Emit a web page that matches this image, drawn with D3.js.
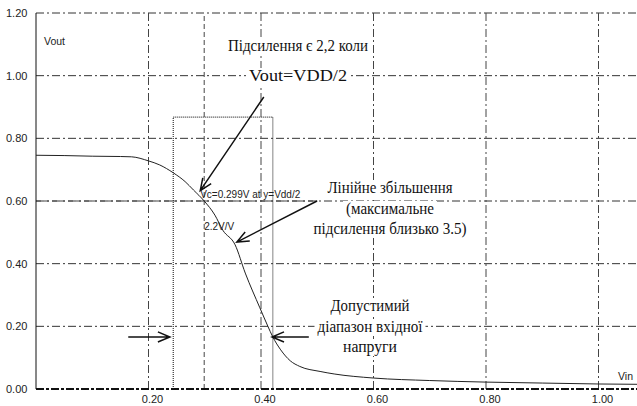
<!DOCTYPE html>
<html>
<head>
<meta charset="utf-8">
<script src="https://cdn.jsdelivr.net/npm/d3@7"></script>
<style>
  body { margin: 0; background: #fff; }
  svg { display: block; }
  .tick-label { font-family: "Liberation Sans", Arial, sans-serif; font-size: 11px; fill: #222; }
  .note { font-family: "Liberation Serif", "Times New Roman", serif; font-size: 17px; fill: #111; }
  .small { font-family: "Liberation Sans", Arial, sans-serif; font-size: 10px; fill: #222; }
</style>
</head>
<body>
<svg id="chart"></svg>
<script>
const width = 637;
const height = 406;
const margin = {top: 13, right: 0, bottom: 17, left: 36};

// Transfer curve Vout(Vin)
const vin  = [0, 0.05, 0.10, 0.15, 0.17, 0.20, 0.22, 0.244, 0.265, 0.28, 0.299, 0.318, 0.332, 0.354,
    0.372, 0.398, 0.412, 0.421, 0.435, 0.452, 0.469, 0.505, 0.53, 0.60, 0.70, 0.80, 0.90, 1.00, 1.07];
const vout = [0.746, 0.745, 0.743, 0.742, 0.741, 0.728, 0.715, 0.69, 0.662, 0.635, 0.60, 0.555, 0.507, 0.46,
    0.37, 0.259, 0.201, 0.166, 0.125, 0.09, 0.072, 0.056, 0.048, 0.035, 0.027, 0.022, 0.019, 0.016, 0.015];

const xTicks = [0.2, 0.4, 0.6, 0.8, 1.0];
const yTicks = [0.2, 0.4, 0.6, 0.8, 1.0, 1.2];

// cursor / measurement values
const cursorVin = 0.299;
const cursorVout = 0.6;
const rangeVin = [0.244, 0.421];
const rangeTop = 0.868;

// annotation texts
const gainTitle = ["Підсилення є 2,2 коли", "Vout=VDD/2"];
const linearText = ["Лінійне збільшення", "(максимальне", "підсилення близько 3.5)"];
const rangeText = ["Допустимий", "діапазон вхідної", "напруги"];
const cursorText = "Vc=0.299V at y=Vdd/2";
const gainText = "2.2V/V";

const svg = d3.select("#chart")
    .attr("width", width)
    .attr("height", height);

const x = d3.scaleLinear()
    .domain([0, 1])
    .range([margin.left, 598.5]);

const y = d3.scaleLinear()
    .domain([0, 1.2])
    .range([389, margin.top]);

// grid
const grid = svg.append("g");
grid.selectAll(".hgrid")
    .data(yTicks)
    .enter()
    .append("line")
    .attr("x1", x(0)).attr("x2", width)
    .attr("y1", d => y(d)).attr("y2", d => y(d))
    .style("stroke", "#333")
    .style("stroke-width", 1)
    .style("stroke-dasharray", "8,3,2,3");

grid.selectAll(".vgrid")
    .data(xTicks)
    .enter()
    .append("line")
    .attr("x1", d => x(d)).attr("x2", d => x(d))
    .attr("y1", y(0)).attr("y2", y(1.2))
    .style("stroke", "#444")
    .style("stroke-width", 1)
    .style("stroke-dasharray", "8,3,2,3");

// cursor lines (dashed)
svg.append("line")
    .attr("x1", x(cursorVin)).attr("x2", x(cursorVin))
    .attr("y1", y(0)).attr("y2", y(1.2))
    .style("stroke", "#444")
    .style("stroke-dasharray", "5,3");
svg.append("line")
    .attr("x1", x(0)).attr("x2", x(0.5))
    .attr("y1", y(cursorVout)).attr("y2", y(cursorVout))
    .style("stroke", "#444")
    .style("stroke-dasharray", "5,3");

// dotted range box
svg.append("path")
    .attr("d", `M${x(rangeVin[0])},${y(0)}V${y(rangeTop)}H${x(rangeVin[1])}V${y(0)}`)
    .style("fill", "none")
    .style("stroke", "#333")
    .style("stroke-width", 1.2)
    .style("stroke-dasharray", "1,1");

// axes lines
svg.append("line")
    .attr("x1", x(0)).attr("x2", x(0))
    .attr("y1", y(0)).attr("y2", y(1.2))
    .style("stroke", "#111");
svg.append("line")
    .attr("x1", x(0)).attr("x2", width)
    .attr("y1", y(0)).attr("y2", y(0))
    .style("stroke", "#111")
    .style("stroke-width", 2)
    .style("stroke-dasharray", "8,2,3,2");

// tick labels
svg.selectAll(".ylab")
    .data([0].concat(yTicks))
    .enter()
    .append("text")
    .attr("class", "tick-label")
    .attr("x", 6)
    .attr("y", d => y(d) + 4)
    .text(d => d.toFixed(2));

svg.selectAll(".xlab")
    .data(xTicks)
    .enter()
    .append("text")
    .attr("class", "tick-label")
    .attr("x", d => x(d) + 4)
    .attr("y", 403)
    .attr("text-anchor", "middle")
    .text(d => d.toFixed(2));

svg.append("text").attr("class", "small").attr("x", 44).attr("y", 45)
    .style("font-size", "10.5px").text("Vout");
svg.append("text").attr("class", "small").attr("x", 618).attr("y", 380)
    .style("font-size", "10.5px").text("Vin");

// curve
const line = d3.line()
    .x(d => x(d[0]))
    .y(d => y(d[1]))
    .curve(d3.curveMonotoneX);

svg.append("path")
    .datum(d3.zip(vin, vout))
    .attr("d", line)
    .style("fill", "none")
    .style("stroke", "#222")
    .style("stroke-width", 1);

// cursor readouts
svg.append("text").attr("class", "small")
    .attr("x", x(cursorVin) - 4).attr("y", y(cursorVout) - 3)
    .text(cursorText);
svg.append("text").attr("class", "small")
    .attr("x", x(cursorVin)).attr("y", y(cursorVout) + 29)
    .text(gainText);

// serif notes, optionally on a white box
function note(lines, cx, ys, widths) {
    lines.forEach((t, i) => {
        const w = widths[i];
        svg.append("rect")
            .attr("x", cx - w / 2 - 3).attr("y", ys[i] - 13)
            .attr("width", w + 6).attr("height", 17)
            .style("fill", "#fff");
        svg.append("text")
            .attr("class", "note")
            .attr("x", cx).attr("y", ys[i])
            .attr("text-anchor", "middle")
            .attr("textLength", w)
            .attr("lengthAdjust", "spacingAndGlyphs")
            .text(t);
    });
}

note(gainTitle, 298, [51, 81], [140, 98]);
note(linearText, 390, [193, 214, 234], [125, 88, 153]);
note(rangeText, 370, [311, 332, 352], [79, 105, 54]);

// arrows with open heads
function arrow(x1, y1, x2, y2) {
    const a = Math.atan2(y2 - y1, x2 - x1);
    const len = 13, spread = 0.4;
    const p = (ang) => [x2 - len * Math.cos(a + ang), y2 - len * Math.sin(a + ang)];
    const h1 = p(spread), h2 = p(-spread);
    svg.append("path")
        .attr("d", `M${x1},${y1}L${x2},${y2}M${h1[0]},${h1[1]}L${x2},${y2}L${h2[0]},${h2[1]}`)
        .style("fill", "none")
        .style("stroke", "#111")
        .style("stroke-width", 1.5);
}

arrow(x(0.405), y(0.932), x(0.292), y(0.633));
arrow(x(0.4996), y(0.600), x(0.357), y(0.469));
arrow(x(0.164), y(0.166), x(0.238), y(0.166));
arrow(x(0.485), y(0.166), x(0.4196), y(0.166));
</script>
</body>
</html>
